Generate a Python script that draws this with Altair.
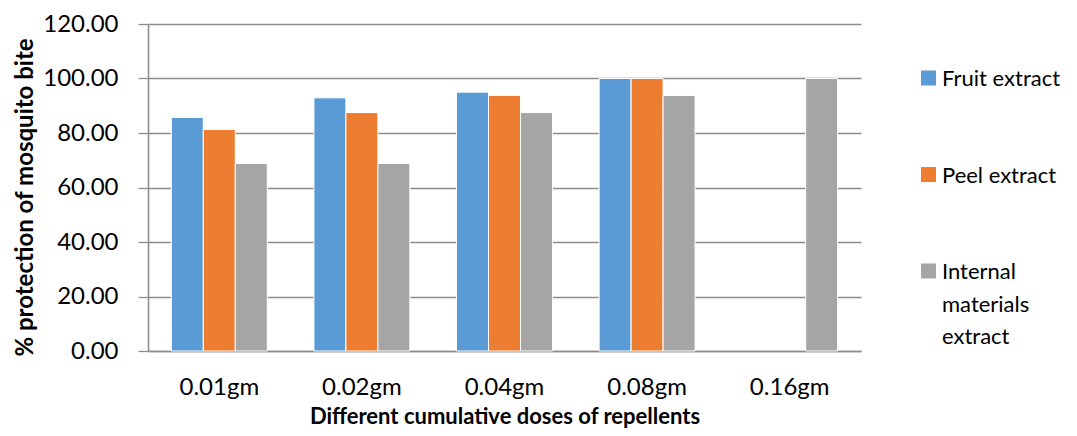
import altair as alt
import pandas as pd

doses = ["0.01gm", "0.02gm", "0.04gm", "0.08gm", "0.16gm"]
series = ["Fruit extract", "Peel extract", "Internal materials extract"]
legend_labels = ["Fruit extract", "Peel extract", "Internal\nmaterials\nextract"]
fruit = [85.7, 92.9, 95.0, 100.0, None]
peel = [81.3, 87.5, 93.8, 100.0, None]
internal = [68.8, 68.8, 87.5, 93.8, 100.0]
colors = ["#5B9BD5", "#ED7D31", "#A5A5A5"]

rows = []
for s, vals in zip(series, [fruit, peel, internal]):
    for d, v in zip(doses, vals):
        if v is not None:
            rows.append({"dose": d, "series": s, "value": v})
df = pd.DataFrame(rows)
leg = pd.DataFrame({"series": series, "label": legend_labels})

FONT = "Lato"
FS = 24

color = alt.Color("series:N", sort=series, scale=alt.Scale(domain=series, range=colors), legend=None)

bars = alt.Chart(df).mark_bar(stroke="white", strokeWidth=1).encode(
    x=alt.X("dose:N", sort=doses,
            scale=alt.Scale(paddingInner=0.327, paddingOuter=0.1635),
            axis=alt.Axis(title="Different cumulative doses of repellents", labelAngle=0,
                          ticks=False, labelPadding=24, titlePadding=7,
                          labelFontSize=FS, titleFontSize=22, titleFontWeight="bold",
                          labelColor="#000", titleColor="#000",
                          domainColor="#8c8c8c", domainWidth=1.5, grid=False)),
    xOffset=alt.XOffset("series:N", sort=series, scale=alt.Scale(domain=series, paddingInner=0, paddingOuter=0)),
    y=alt.Y("value:Q", scale=alt.Scale(domain=[0, 120], nice=False),
            axis=alt.Axis(title="% protection of mosquito bite", values=[0, 20, 40, 60, 80, 100, 120],
                          format=".2f", tickSize=10, tickColor="#8c8c8c", tickWidth=1.3,
                          labelPadding=20, titlePadding=5, titleY=173,
                          labelFontSize=FS, titleFontSize=24, titleFontWeight="bold",
                          labelColor="#000", titleColor="#000",
                          domainColor="#8c8c8c", domainWidth=1.5,
                          gridColor="#8c8c8c", gridWidth=1.3)),
    color=color,
)

leg_y = alt.Y("series:N", sort=series, axis=None,
              scale=alt.Scale(type="point", domain=series, range=[54, 247], padding=0))

leg_sq = alt.Chart(leg).mark_square(size=225, opacity=1).encode(
    x=alt.value(780.5), y=leg_y, color=color)

leg_tx = alt.Chart(leg).mark_text(align="left", baseline="alphabetic", dy=8, fontSize=22,
                                  lineBreak="\n", lineHeight=32.5, color="#000").encode(
    x=alt.value(794), y=leg_y, text="label:N")

chart = alt.layer(bars, leg_sq, leg_tx).resolve_scale(y="independent").properties(
    width=713, height=327,
    autosize=alt.AutoSizeParams(type="none"),
    padding={"left": 140, "top": 16, "right": 207, "bottom": 77},
).configure(font=FONT).configure_view(stroke=None)

chart.save("out.html", embed_options={"renderer": "svg", "actions": False})
